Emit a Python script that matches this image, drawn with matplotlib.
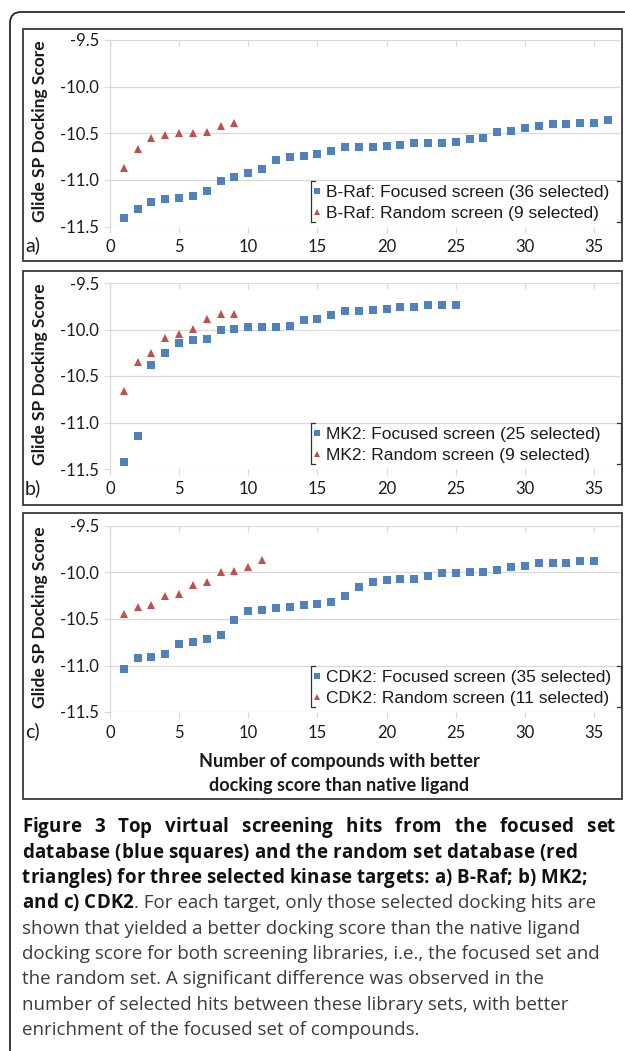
import numpy as np
import matplotlib
matplotlib.use('Agg')
import matplotlib.pyplot as plt
from matplotlib.lines import Line2D
from matplotlib.patches import FancyBboxPatch, Rectangle
from matplotlib.transforms import IdentityTransform
from matplotlib.font_manager import FontProperties

# ---------------- data ----------------
braf_focused = [-11.41, -11.315, -11.233, -11.21, -11.19, -11.17, -11.12, -11.01, -10.97,
                -10.93, -10.885, -10.79, -10.75, -10.74, -10.725, -10.69, -10.65, -10.65,
                -10.645, -10.64, -10.63, -10.605, -10.605, -10.605, -10.595, -10.565, -10.55,
                -10.49, -10.475, -10.44, -10.425, -10.405, -10.40, -10.39, -10.39, -10.355]
braf_random = [-10.87, -10.67, -10.555, -10.52, -10.495, -10.495, -10.49, -10.425, -10.39]

mk2_focused = [-11.425, -11.145, -10.38, -10.25, -10.14, -10.11, -10.10, -10.01, -9.99,
               -9.975, -9.97, -9.97, -9.96, -9.90, -9.885, -9.845, -9.80, -9.80, -9.785,
               -9.775, -9.76, -9.76, -9.74, -9.74, -9.735]
mk2_random = [-10.665, -10.35, -10.255, -10.09, -10.045, -9.995, -9.89, -9.835, -9.83]

cdk2_focused = [-11.037, -10.919, -10.912, -10.88, -10.773, -10.751, -10.712, -10.676, -10.516,
                -10.413, -10.402, -10.38, -10.366, -10.345, -10.338, -10.316, -10.249, -10.152,
                -10.10, -10.078, -10.07, -10.067, -10.035, -10.006, -10.003, -9.999, -9.999,
                -9.97, -9.942, -9.928, -9.903, -9.903, -9.896, -9.874, -9.871]
cdk2_random = [-10.445, -10.366, -10.345, -10.249, -10.227, -10.135, -10.10, -9.996, -9.988,
               -9.942, -9.864]

panel_tags = ['a)', 'b)', 'c)']
focused_labels = ['B-Raf: Focused screen (36 selected)',
                  'MK2: Focused screen (25 selected)',
                  'CDK2: Focused screen (35 selected)']
random_labels = ['B-Raf: Random screen (9 selected)',
                 'MK2: Random screen (9 selected)',
                 'CDK2: Random screen (11 selected)']
x_ticks = [0, 5, 10, 15, 20, 25, 30, 35]
y_ticks = [-11.5, -11.0, -10.5, -10.0, -9.5]
y_label = 'Glide SP Docking Score'
x_label_lines = ['Number of compounds with better', 'docking score than native ligand']

caption_bold = ['Figure 3 Top virtual screening hits from the focused set',
                'database (blue squares) and the random set database (red',
                'triangles) for three selected kinase targets: a) B-Raf; b) MK2;']
caption_mixed = ('and c) CDK2', '. For each target, only those selected docking hits are')
caption_regular = ['shown that yielded a better docking score than the native ligand',
                   'docking score for both screening libraries, i.e., the focused set and',
                   'the random set. A significant difference was observed in the',
                   'number of selected hits between these library sets, with better',
                   'enrichment of the focused set of compounds.']

# ---------------- layout ----------------
W, H = 625, 1051
plt.rcParams['axes.unicode_minus'] = False
fig = plt.figure(figsize=(W / 100, H / 100), dpi=100)
fig.patch.set_facecolor('white')


def fx(x):
    return x / W


def fy(y):
    return 1 - y / H


BLUE = '#4F81BD'
RED = '#C0504D'
GRID = '#D9D9D9'
FRAME = '#3A3A3A'
TICKFONT = 'Lato'
LEGFONT = 'Liberation Sans'

# outer rounded box (display pixels, origin bottom-left)
outer = FancyBboxPatch((10, -20), 640, H - 12 + 20, boxstyle='round,pad=0,rounding_size=11',
                       transform=IdentityTransform(), facecolor='none', edgecolor='#2A2A2A',
                       linewidth=1.3)
fig.patches.append(outer)

frames = [(29, 261), (271, 505), (513, 799)]
plot_tops = [40, 283, 526]
plot_bottoms = [226.5, 469, 712]
legend_tops = [181, 423, 666]
datasets = [(braf_focused, braf_random), (mk2_focused, mk2_random), (cdk2_focused, cdk2_random)]

x_left_px, x_right_px = 110, 620
for i in range(3):
    ft, fb = frames[i]
    fig.patches.append(Rectangle((fx(23), fy(fb)), fx(622) - fx(23), (fb - ft) / H,
                                 transform=fig.transFigure, facecolor='none',
                                 edgecolor=FRAME, linewidth=1.3))
    top, bot = plot_tops[i], plot_bottoms[i]
    ax = fig.add_axes([fx(x_left_px), fy(bot), fx(x_right_px) - fx(x_left_px), (bot - top) / H])
    foc, ran = datasets[i]
    xf = np.arange(1, len(foc) + 1)
    xr = np.arange(1, len(ran) + 1)
    hf, = ax.plot(xf, foc, linestyle='none', marker='s', markersize=5.8, color=BLUE,
                  markeredgewidth=0, label=focused_labels[i], zorder=3)
    hr, = ax.plot(xr, ran, linestyle='none', marker='^', markersize=5.8, color=RED,
                  markeredgewidth=0, label=random_labels[i], zorder=3)
    ax.set_xlim(0, (x_right_px - x_left_px) / 13.83)
    ax.set_ylim(-11.5, -9.5)
    ax.set_xticks(x_ticks)
    ax.set_yticks(y_ticks)
    ax.set_yticklabels([f'{v:.1f}' for v in y_ticks])
    ax.set_xticklabels([str(v) for v in x_ticks])
    ax.grid(axis='y', color=GRID, linewidth=0.9)
    ax.set_axisbelow(True)
    for s in ['top', 'right', 'bottom']:
        ax.spines[s].set_visible(False)
    ax.spines['left'].set_color(GRID)
    ax.spines['left'].set_linewidth(0.9)
    ax.tick_params(axis='both', direction='out', length=4, width=0.9, color=GRID,
                   labelsize=12, labelcolor='#1A1A1A', pad=4)
    ax.tick_params(axis='x', pad=5)
    for lab in ax.get_xticklabels() + ax.get_yticklabels():
        lab.set_fontfamily(TICKFONT)
    sec = ax.secondary_xaxis('top')
    sec.set_xticks(x_ticks)
    sec.tick_params(direction='in', length=4, width=0.9, color=GRID, labeltop=False)
    sec.spines['top'].set_visible(False)
    ax.patch.set_alpha(0)

    # y label
    fig.text(fx(40), fy((top + bot) / 2 - 2), y_label, rotation=90, ha='center', va='center',
             fontfamily=TICKFONT, fontweight='bold', fontsize=12.5, color='#1A1A1A')
    # panel tag
    fig.text(fx(25), fy(bot + 19), panel_tags[i], ha='left', va='center',
             fontfamily=TICKFONT, fontsize=14, color='#1A1A1A')

    # legend
    lt = legend_tops[i]
    leg = ax.legend(handles=[hf, hr], loc='upper left',
                    bbox_to_anchor=(fx(313), fy(lt + 4)), bbox_transform=fig.transFigure,
                    frameon=False, handlelength=0.5, handletextpad=0.22, borderpad=0,
                    borderaxespad=0, labelspacing=0.32, markerscale=0.7,
                    prop={'family': LEGFONT, 'size': 12.5})
    for t in leg.get_texts():
        t.set_color('#1A1A1A')
    lb = lt + 41
    for xs, tip in [(311, 4), (621, -4)]:
        fig.add_artist(Line2D([fx(xs + tip), fx(xs), fx(xs), fx(xs + tip)],
                              [fy(lt), fy(lt), fy(lb), fy(lb)], transform=fig.transFigure,
                              color='#333333', linewidth=0.9))

# x label under panel c
for k, line in enumerate(x_label_lines):
    fig.text(fx(339), fy(762 + 23 * k), line, ha='center', va='center', fontfamily=TICKFONT,
             fontweight='bold', fontsize=13.1, color='#1A1A1A')

# ---------------- caption ----------------
CAPFONT = 'Open Sans'
CAPSIZE = 13.5
BOLDC = '#111111'
REGC = '#3C3C3C'
cap_x = 22
line_y0 = 827
line_dy = 25.3
BASE_OFF = 5.5
fig.canvas.draw()
renderer = fig.canvas.get_renderer()
prop_b = FontProperties(family=CAPFONT, size=CAPSIZE, weight='bold')
prop_r = FontProperties(family=CAPFONT, size=CAPSIZE, weight='normal')


def tw(s, prop):
    if s == '':
        return 0.0
    w, h, d = renderer.get_text_width_height_descent(s, prop, ismath=False)
    return w


def char_lefts(s, prop):
    return [tw(s[:k + 1], prop) - tw(s[k], prop) for k in range(len(s))]


def draw_tracked(s, x0, yc, prop, color, track=0.0, target=None):
    lefts = char_lefts(s, prop)
    nat = tw(s, prop)
    nsp = s.count(' ')
    word_extra = 0.0
    if target is not None:
        word_extra = (target - x0 - nat - track * (len(s) - 1)) / max(nsp, 1)
    spaces_seen = 0
    end = x0
    for k, c in enumerate(s):
        if c == ' ':
            spaces_seen += 1
            continue
        xpos = x0 + lefts[k] + track * k + word_extra * spaces_seen
        fig.text(fx(xpos), fy(yc + BASE_OFF), c, ha='left', va='baseline',
                 fontproperties=prop, color=color)
        end = xpos + tw(c, prop)
    return end


def tracking_for(s, prop, x0, target):
    return (target - x0 - tw(s, prop)) / (len(s) - 1)


tr2 = tracking_for(caption_bold[1], prop_b, cap_x, 577)
tr3 = tracking_for(caption_bold[2], prop_b, cap_x, 587)
tr = (tr2 + tr3) / 2

draw_tracked(caption_bold[0], cap_x, line_y0, prop_b, BOLDC, track=tr, target=615)
draw_tracked(caption_bold[1], cap_x, line_y0 + line_dy, prop_b, BOLDC, track=tr2)
draw_tracked(caption_bold[2], cap_x, line_y0 + 2 * line_dy, prop_b, BOLDC, track=tr3)

y4 = line_y0 + line_dy * 3
end_b = draw_tracked(caption_mixed[0], cap_x, y4, prop_b, BOLDC, track=tr)
fig.text(fx(end_b + 1), fy(y4 + BASE_OFF), caption_mixed[1], ha='left', va='baseline',
         fontproperties=prop_r, color=REGC)

for k, line in enumerate(caption_regular):
    fig.text(fx(cap_x), fy(line_y0 + line_dy * (k + 4) + BASE_OFF), line, ha='left',
             va='baseline', fontproperties=prop_r, color=REGC)

fig.savefig('out.png', dpi=100)
